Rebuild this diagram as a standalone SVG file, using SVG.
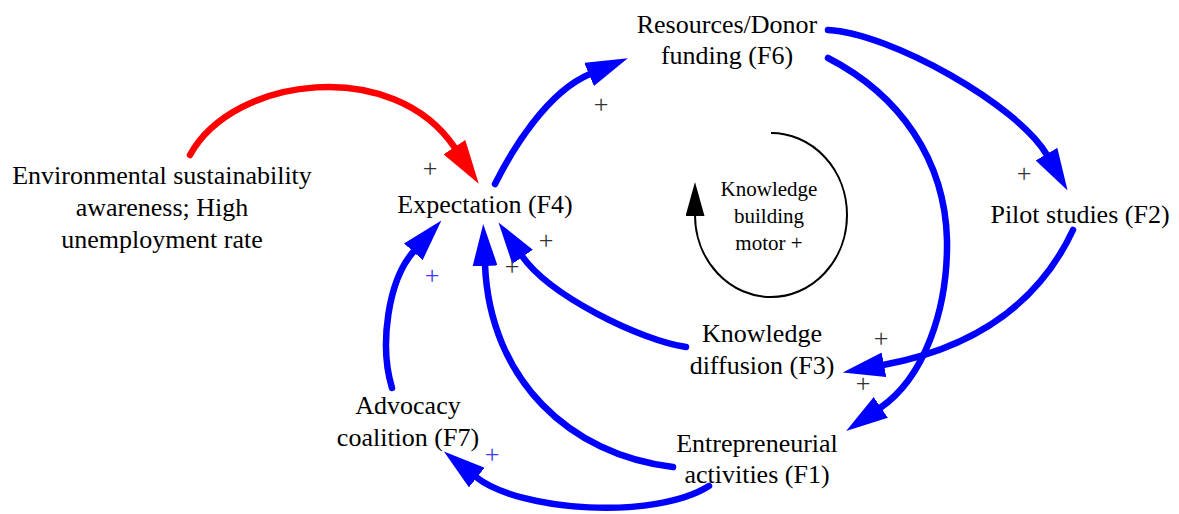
<svg xmlns="http://www.w3.org/2000/svg" width="1179" height="514" viewBox="0 0 1179 514" font-family="Liberation Serif, Times New Roman, serif">
<style>
text{font-family:'Liberation Serif','Times New Roman',serif}
.lbl{font-size:26px;fill:#000;text-anchor:middle}
.motor{font-size:21px;fill:#000;text-anchor:middle}
.pl{font-size:26px;fill:#333;text-anchor:middle}
.pb{fill:#3a3aff}
.b{fill:none;stroke:#0000ff;stroke-width:6.5;stroke-linecap:round}
.r{fill:none;stroke:#ff0000;stroke-width:6.5;stroke-linecap:round}
.k{fill:none;stroke:#000;stroke-width:2}
</style>
<defs>
<marker id="ab" markerUnits="userSpaceOnUse" viewBox="0 0 42 25" markerWidth="42" markerHeight="25" refX="1" refY="12.5" orient="auto"><path d="M0,0 L42,12.5 L0,25 z" fill="#0000ff"/></marker>
<marker id="ar" markerUnits="userSpaceOnUse" viewBox="0 0 44 26" markerWidth="44" markerHeight="26" refX="1" refY="13" orient="auto"><path d="M0,0 L44,13 L0,26 z" fill="#ff0000"/></marker>
<marker id="ak" markerUnits="userSpaceOnUse" viewBox="0 0 34 19" markerWidth="34" markerHeight="19" refX="1" refY="9.5" orient="auto"><path d="M0,0 L34,9.5 L0,19 z" fill="#000"/></marker>
</defs>

<g id="connectors">
<path id="e-env-f4" class="r" d="M190,155 C233,76 394,56 455,148" marker-end="url(#ar)"/>
<path id="e-f4-f6" class="b" d="M495,184 C512,150 547,92 590,74" marker-end="url(#ab)"/>
<path id="e-f6-f2" class="b" d="M828,30 C890,33 1018,105 1047,155" marker-end="url(#ab)"/>
<path id="e-f6-f1" class="b" d="M828,58 C900,95 945,160 947,240 C948,310 924,378 880,408" marker-end="url(#ab)"/>
<path id="e-f2-f3" class="b" d="M1073,230 C1045,290 990,345 883,365" marker-end="url(#ab)"/>
<path id="e-f3-f4" class="b" d="M686,347 C640,340 550,296 522,256" marker-end="url(#ab)"/>
<path id="e-f1-f4" class="b" d="M673,467 C570,455 490,380 485,265" marker-end="url(#ab)"/>
<path id="e-f7-f4" class="b" d="M392,388 C379,345 388,280 414,251" marker-end="url(#ab)"/>
<path id="e-f1-f7" class="b" d="M709,486 C655,520 520,512 476,477" marker-end="url(#ab)"/>
<path id="loop" class="k" d="M771,133 A76,82 0 1 1 695,215" marker-end="url(#ak)"/>
</g>

<g id="polarities">
<text class="pl" x="430" y="177">+</text>
<text class="pl" x="601" y="113">+</text>
<text class="pl" x="1024" y="182">+</text>
<text class="pl" x="546" y="249">+</text>
<text class="pl" x="512" y="275">+</text>
<text class="pl pb" x="432" y="284">+</text>
<text class="pl" x="881" y="347">+</text>
<text class="pl" x="863" y="392">+</text>
<text class="pl pb" x="492" y="463">+</text>
</g>

<g id="node-env"><text class="lbl" x="162" y="184">Environmental sustainability</text><text class="lbl" x="162" y="216">awareness; High</text><text class="lbl" x="162" y="248">unemployment rate</text></g>
<g id="node-f4"><text class="lbl" x="485" y="213">Expectation (F4)</text></g>
<g id="node-f6"><text class="lbl" x="727" y="33">Resources/Donor</text><text class="lbl" x="727" y="64">funding (F6)</text></g>
<g id="node-f2"><text class="lbl" x="1080" y="223">Pilot studies (F2)</text></g>
<g id="node-f3"><text class="lbl" x="762" y="342">Knowledge</text><text class="lbl" x="762" y="374">diffusion (F3)</text></g>
<g id="node-f1"><text class="lbl" x="757" y="452">Entrepreneurial</text><text class="lbl" x="757" y="483">activities (F1)</text></g>
<g id="node-f7"><text class="lbl" x="408" y="414">Advocacy</text><text class="lbl" x="408" y="446">coalition (F7)</text></g>
<g id="loop-label"><text class="motor" x="769" y="196">Knowledge</text><text class="motor" x="769" y="223">building</text><text class="motor" x="769" y="250">motor +</text></g>
</svg>
